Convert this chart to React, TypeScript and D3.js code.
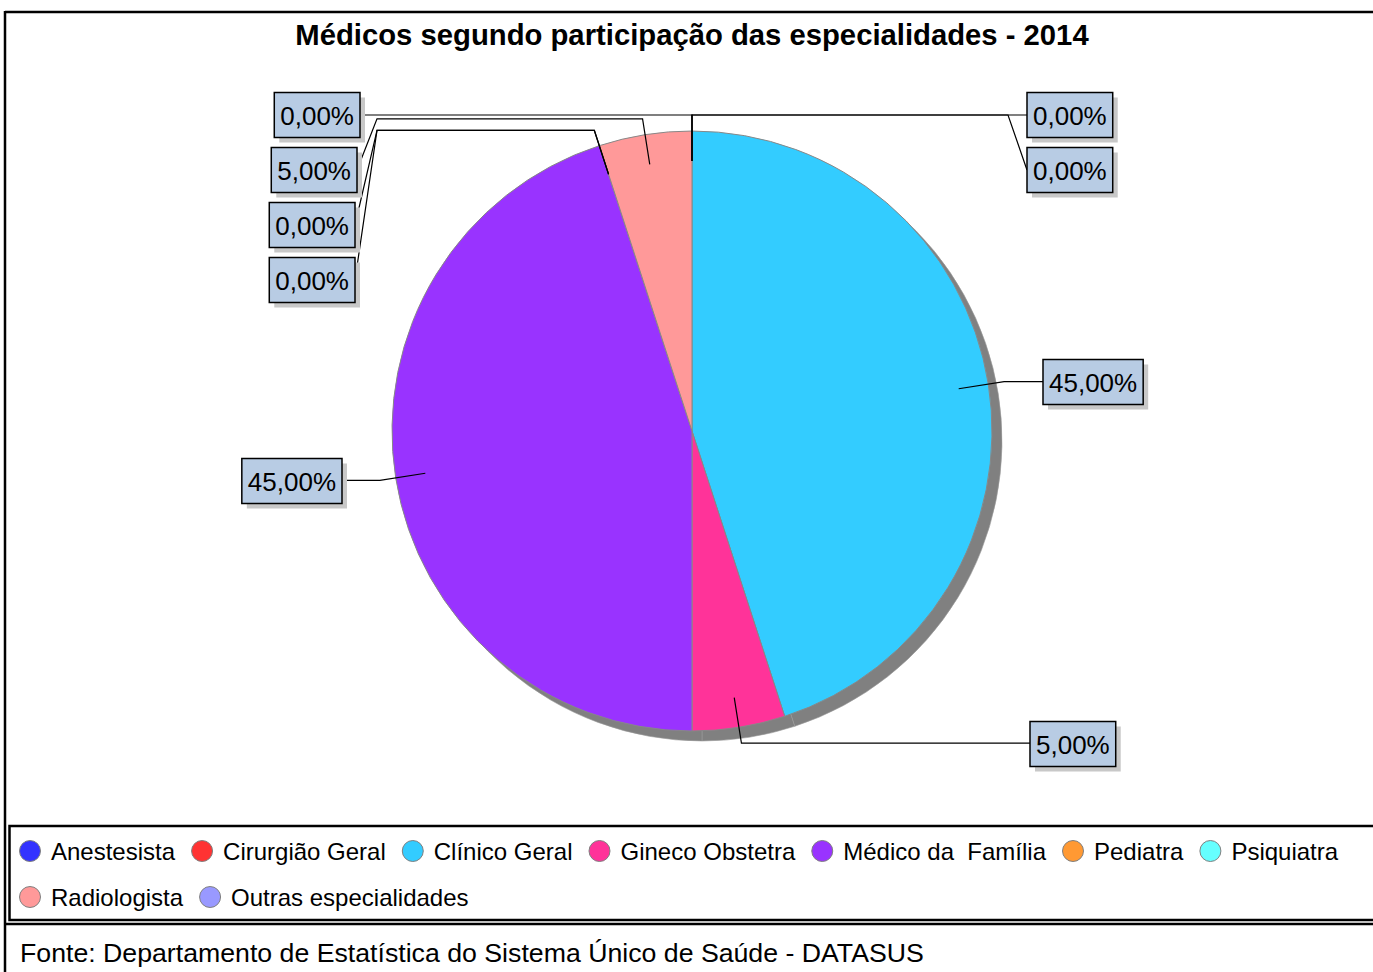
import React from "react";
import * as d3 from "d3";

const TITLE = "Médicos segundo participação das especialidades - 2014";
const FOOTER = "Fonte: Departamento de Estatística do Sistema Único de Saúde - DATASUS";
const categories = [
  "Anestesista",
  "Cirurgião Geral",
  "Clínico Geral",
  "Gineco Obstetra",
  "Médico da  Família",
  "Pediatra",
  "Psiquiatra",
  "Radiologista",
  "Outras especialidades",
];
const values = [0, 0, 45, 5, 45, 0, 0, 5, 0];
const colors = ["#3333ff", "#ff3333", "#33ccff", "#ff3399", "#9933ff", "#ff9933", "#66ffff", "#ff9999", "#9999ff"];

// label layout (annotation placement): side, box edge x, box centre y, optional bend x
const labelLayout = [
  { side: "right", edge: 1027, cy: 115, bend: 1008 },
  { side: "right", edge: 1027, cy: 170, bend: 1008 },
  { side: "right", edge: 1043, cy: 382, bend: null },
  { side: "right", edge: 1030, cy: 744, bend: null },
  { side: "left", edge: 342, cy: 481, bend: null },
  { side: "left", edge: 355, cy: 280, bend: 377 },
  { side: "left", edge: 355, cy: 225, bend: 377 },
  { side: "left", edge: 357, cy: 170, bend: 377 },
  { side: "left", edge: 360, cy: 115, bend: null },
];

const W = 1373;
const H = 972;
const CX = 692;
const CY = 431;
const R = 300;
const FONT = "'Liberation Sans', Arial, sans-serif";

let ctx: CanvasRenderingContext2D | null = null;
function measure(text: string, font: string) {
  if (!ctx) ctx = document.createElement("canvas").getContext("2d");
  if (!ctx) return text.length * 12;
  ctx.font = font;
  return ctx.measureText(text).width;
}

const fmt = (v: number) => v.toFixed(2).replace(".", ",") + "%";

export default function App() {
  const total = d3.sum(values);
  const pie = d3.pie<number>().sort(null).value((d) => d);
  const arcsData = pie(values);
  const arc = d3.arc<d3.PieArcDatum<number>>().innerRadius(0).outerRadius(R);
  const pt = (a: number, r: number) => [CX + r * Math.sin(a), CY - r * Math.cos(a)];

  // legend layout
  const legendFont = `24px ${FONT}`;
  let lx = 19;
  let row = 0;
  const legendItems = categories.map((c, i) => {
    const tw = measure(c, legendFont);
    const w = 32 + tw;
    if (lx + w > W - 10) {
      row += 1;
      lx = 19;
    }
    const item = { x: lx, y: 851 + row * 46, c, i };
    lx += w + 16;
    return item;
  });

  const labelFont = `26px ${FONT}`;

  return (
    <div style={{ position: "absolute", left: 0, top: 0 }}>
      <svg width={W} height={H} style={{ display: "block", background: "#fff" }}>
        <rect x={0} y={0} width={W} height={H} fill="#fff" />
        {/* frame */}
        <line x1={5} y1={12} x2={W} y2={12} stroke="#000" strokeWidth={2.5} />
        <line x1={5} y1={11} x2={5} y2={H} stroke="#000" strokeWidth={2.5} />
        <rect x={9.5} y={826} width={W} height={94} fill="none" stroke="#000" strokeWidth={2.5} />
        <line x1={5} y1={924} x2={W} y2={924} stroke="#000" strokeWidth={2.5} />

        <text x={692} y={45} textAnchor="middle" fontFamily={FONT} fontWeight="bold" fontSize={29.25}>
          {TITLE}
        </text>

        {/* shadow */}
        <g transform="translate(10,10)">
          {arcsData.map((a, i) =>
            a.endAngle - a.startAngle > 0 ? (
              <path key={i} d={arc(a) || ""} transform={`translate(${CX},${CY})`} fill="#808080" stroke="#9a9a9a" strokeWidth={0.6} />
            ) : null
          )}
        </g>
        {/* slices */}
        {arcsData.map((a, i) =>
          a.endAngle - a.startAngle > 0 ? (
            <path key={i} d={arc(a) || ""} transform={`translate(${CX},${CY})`} fill={colors[i]} stroke="#888" strokeWidth={1} />
          ) : null
        )}

        {/* leaders */}
        {arcsData.map((a, i) => {
          const mid = (a.startAngle + a.endAngle) / 2;
          const [sx, sy] = pt(mid, R * 0.9);
          const [ex, ey] = pt(mid, R + 16);
          const L = labelLayout[i];
          let d = `M${sx},${sy}L${ex},${ey}`;
          if (L.bend != null) {
            d += `L${L.bend},${ey}L${L.edge},${L.cy}`;
          } else {
            d += `L${L.edge},${ey}`;
          }
          return <path key={i} d={d} fill="none" stroke="#000" strokeWidth={1.2} />;
        })}

        {/* label boxes */}
        {arcsData.map((a, i) => {
          const L = labelLayout[i];
          const txt = fmt((values[i] / total) * 100);
          const bw = measure(txt, labelFont) + 12;
          const bh = 45;
          const bx = L.side === "right" ? L.edge : L.edge - bw;
          const by = L.cy - bh / 2;
          return (
            <g key={i}>
              <rect x={bx + 5} y={by + 5} width={bw} height={bh} fill="#c8c8c8" />
              <rect x={bx} y={by} width={bw} height={bh} fill="#b8cce4" stroke="#000" strokeWidth={1.5} />
              <text x={bx + bw / 2} y={L.cy + 9.5} textAnchor="middle" fontFamily={FONT} fontSize={26}>
                {txt}
              </text>
            </g>
          );
        })}

        {/* legend */}
        {legendItems.map((it) => (
          <g key={it.i}>
            <circle cx={it.x + 11} cy={it.y} r={10.5} fill={colors[it.i]} stroke="#808080" strokeWidth={1} />
            <text x={it.x + 32} y={it.y + 8.5} fontFamily={FONT} fontSize={24} style={{ whiteSpace: "pre" }}>
              {it.c}
            </text>
          </g>
        ))}

        <text x={20} y={962} fontFamily={FONT} fontSize={26.7}>
          {FOOTER}
        </text>
      </svg>
    </div>
  );
}
